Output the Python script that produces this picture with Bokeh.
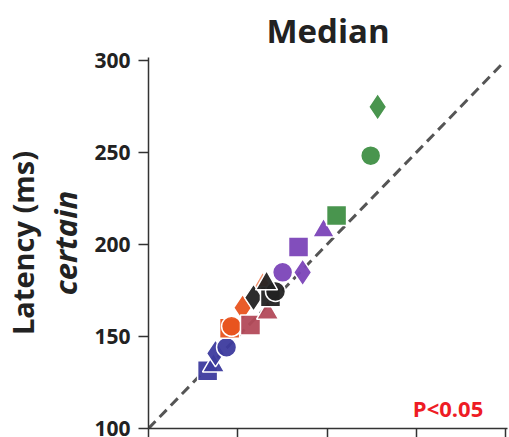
from bokeh.plotting import figure
from bokeh.models import Range1d, Title, Label, FixedTicker, ColumnDataSource
from bokeh.embed import file_html
from bokeh.resources import INLINE

FONT = "Open Sans"

# ---- data ----
tick_values = [100, 150, 200, 250, 300]
diag_x = [100, 298]
diag_y = [100, 298]

point_group = ["blue", "blue", "blue", "blue",
               "orange", "orange", "orange", "salmon",
               "redbrown", "redbrown",
               "black", "black", "black", "black",
               "purple", "purple", "purple", "purple",
               "green", "green", "green"]
point_marker = ["square", "triangle", "diamond", "circle",
                "square", "circle", "diamond", "triangle",
                "square", "triangle",
                "diamond", "square", "circle", "triangle",
                "circle", "diamond", "square", "triangle",
                "square", "circle", "diamond"]
median_x = [133.1, 136.4, 137.5, 143.7,
            145.4, 146.5, 152.7, 163.9,
            157.1, 166.7,
            158.8, 168.3, 171.1, 166.1,
            175.1, 186.3, 184.0, 198.0,
            205.3, 224.4, 228.3]
median_y = [131.4, 134.2, 140.8, 144.1,
            154.5, 155.5, 165.6, 178.2,
            156.2, 162.8,
            171.1, 171.6, 174.4, 178.8,
            184.8, 184.8, 198.6, 207.4,
            215.7, 248.2, 274.7]

group_colors = {"blue": "#3d3b9e", "orange": "#e8531f", "salmon": "#f08a62",
                "redbrown": "#b34a5a", "black": "#222222", "purple": "#7b45b8",
                "green": "#3f8f45"}
marker_sizes = {"square": 20, "circle": 20, "triangle": 22, "diamond": 27}

p = figure(width=509, height=437, output_backend="svg", toolbar_location=None,
           x_range=Range1d(100, 301), y_range=Range1d(100, 301.5),
           min_border_left=140, min_border_right=2, min_border_top=56,
           min_border_bottom=9)
p.outline_line_color = None
p.grid.visible = False
p.background_fill_color = "white"
p.border_fill_color = "white"

p.title.text = "Median"
p.title.align = "center"
p.title.text_font = FONT
p.title.text_font_size = "33px"
p.title.text_font_style = "bold"
p.title.text_color = "#222222"

for ax in (p.xaxis[0], p.yaxis[0]):
    ax.ticker = FixedTicker(ticks=tick_values)
    ax.axis_line_width = 1.5
    ax.axis_line_color = "#333333"
    ax.major_tick_line_width = 1.5
    ax.major_tick_line_color = "#333333"
    ax.major_tick_in = 0
    ax.major_tick_out = 9
    ax.minor_tick_line_color = None

p.xaxis.major_label_overrides = {t: "" for t in tick_values}
p.xaxis.major_label_text_font_size = "1px"
p.xaxis.major_label_standoff = 0

p.yaxis.major_tick_out = 10
p.yaxis.major_label_standoff = 8
p.yaxis.major_label_text_font = FONT
p.yaxis.major_label_text_font_style = "bold"
p.yaxis.major_label_text_font_size = "21px"
p.yaxis.major_label_text_color = "#222222"
p.yaxis.axis_label = "certain"
p.yaxis.axis_label_text_font = FONT
p.yaxis.axis_label_text_font_style = "bold italic"
p.yaxis.axis_label_text_font_size = "31px"
p.yaxis.axis_label_text_color = "#222222"
p.yaxis.axis_label_standoff = 5

p.add_layout(Title(text="Latency (ms)", align="center", text_font=FONT,
                   text_font_style="bold", text_font_size="29px",
                   text_color="#222222", standoff=0), "left")

p.line(diag_x, diag_y, line_color="#555555", line_width=3, line_dash="10 6")

colors = [group_colors[g] for g in point_group]
sizes = [marker_sizes[m] for m in point_marker]
src = ColumnDataSource(dict(x=median_x, y=median_y, marker=point_marker,
                            color=colors, size=sizes))
p.scatter("x", "y", source=src, marker="marker", size="size",
          fill_color="color", line_color="white", line_width=1.5, fill_alpha=0.95)

p.add_layout(Label(x=248, y=102.8, text="P<0.05", text_font=FONT,
                   text_font_style="bold", text_font_size="22px",
                   text_color="#ee1c25"))

open("out.html", "w").write(file_html(p, INLINE))
